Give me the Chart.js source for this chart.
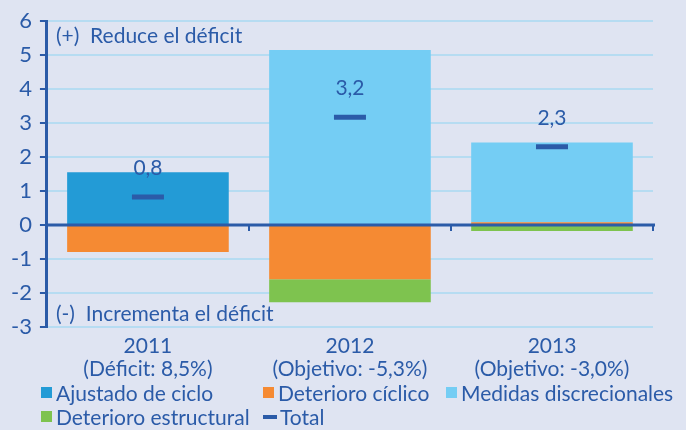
<!DOCTYPE html>
<html>
<head>
<meta charset="utf-8">
<script src="https://cdn.jsdelivr.net/npm/chart.js@4"></script>
<style>
  html, body { margin: 0; padding: 0; background: #dfe4f2; }
  #wrap { position: relative; width: 686px; height: 430px; background: #dfe4f2; }
  #box { position: absolute; left: 0; top: 0; width: 686px; height: 381px; }
  #legend {
    position: absolute; left: 41px; top: 381px; width: 645px;
    display: grid; grid-template-columns: 222px 183px auto; row-gap: 1px;
    font-family: Lato, sans-serif; font-size: 21px; color: #2b5ba8;
  }
  .item { display: flex; align-items: center; height: 23px; white-space: nowrap; }
  .mark { display: inline-block; width: 11px; height: 11px; margin-right: 4px; }
  .mark.line { width: 14px; height: 4px; margin-right: 3px; }
</style>
</head>
<body>
<div id="wrap">
  <div id="box"><canvas id="chart"></canvas></div>
  <div id="legend"></div>
</div>
<script>
// data
const categories = [
  ['2011', '(Déficit: 8,5%)'],
  ['2012', '(Objetivo: -5,3%)'],
  ['2013', '(Objetivo: -3,0%)']
];
const ajustadoCiclo = [1.55, null, null];
const deterioroCiclico = [-0.8, -1.6, 0.08];
const medidasDiscrecionales = [null, 5.15, 2.35];
const deterioroEstructural = [null, -0.68, -0.18];
const total = [0.82, 3.17, 2.3];
const totalLabels = ['0,8', '3,2', '2,3'];
const yTicks = [-3, -2, -1, 0, 1, 2, 3, 4, 5, 6];

const DARK = '#2b5ba8';
const GRID = '#b6dcf2';
const FONT = 'Lato, sans-serif';

// texts inside the plot + total labels + zero line
const notesPlugin = {
  id: 'notes',
  afterDatasetsDraw(chart) {
    const ctx = chart.ctx;
    const x = chart.scales.x, y = chart.scales.y;
    const area = chart.chartArea;
    const y0 = y.getPixelForValue(0);

    ctx.save();
    // zero line over the bars
    ctx.strokeStyle = DARK;
    ctx.lineWidth = 3;
    ctx.beginPath();
    ctx.moveTo(area.left, y0);
    ctx.lineTo(area.right + 2, y0);
    ctx.stroke();
    // small ticks at category boundaries
    ctx.lineWidth = 2;
    for (let i = 1; i <= categories.length; i++) {
      const px = Math.round(x.getPixelForValue(i - 0.5));
      ctx.beginPath();
      ctx.moveTo(px, y0);
      ctx.lineTo(px, y0 + 6);
      ctx.stroke();
    }

    ctx.fillStyle = DARK;
    ctx.font = '21px ' + FONT;
    ctx.textBaseline = 'middle';
    ctx.textAlign = 'left';
    ctx.fillText('(+)  Reduce el déficit', area.left + 9, y.getPixelForValue(5.55));
    ctx.fillText('(-)  Incrementa el déficit', area.left + 9, y.getPixelForValue(-2.62));

    // total value labels
    const meta = chart.getDatasetMeta(4);
    ctx.textAlign = 'center';
    meta.data.forEach((pt, i) => {
      ctx.fillText(totalLabels[i], pt.x, pt.y - 29);
    });
    ctx.restore();
  }
};

const chart = new Chart(document.getElementById('chart'), {
  type: 'bar',
  data: {
    labels: categories,
    datasets: [
      { label: 'Ajustado de ciclo', data: ajustadoCiclo, backgroundColor: '#239bd6' },
      { label: 'Deterioro cíclico', data: deterioroCiclico, backgroundColor: '#f58a33' },
      { label: 'Medidas discrecionales', data: medidasDiscrecionales, backgroundColor: '#74cdf4' },
      { label: 'Deterioro estructural', data: deterioroEstructural, backgroundColor: '#7ec34f' },
      {
        type: 'line', label: 'Total', data: total, stack: 'total', order: -1,
        showLine: false, pointStyle: 'line', pointRadius: 16, pointHoverRadius: 16,
        borderColor: DARK, backgroundColor: DARK, borderWidth: 5, pointBorderWidth: 5
      }
    ]
  },
  options: {
    responsive: true,
    maintainAspectRatio: false,
    animation: false,
    events: [],
    layout: { padding: { left: 3, right: 33, top: 18, bottom: 0 } },
    datasets: { bar: { barPercentage: 0.8, categoryPercentage: 1.0 } },
    scales: {
      x: {
        stacked: true,
        grid: { display: false },
        border: { display: false },
        ticks: { color: DARK, font: { family: FONT, size: 21, lineHeight: 1.1 }, padding: 0, maxRotation: 0 }
      },
      y: {
        stacked: true,
        min: -3, max: 6,
        afterBuildTicks(scale) { scale.ticks = yTicks.map(v => ({ value: v })); },
        grid: { color: GRID, lineWidth: 2, tickColor: DARK, tickLength: 7 },
        border: { color: DARK, width: 3 },
        ticks: { color: DARK, font: { family: FONT, size: 22 }, padding: 8 }
      }
    },
    plugins: {
      legend: { display: false },
      tooltip: { enabled: false }
    }
  },
  plugins: [notesPlugin]
});

// legend in three columns like the original
const legendEl = document.getElementById('legend');
chart.data.datasets.forEach(ds => {
  const item = document.createElement('div');
  item.className = 'item';
  const mark = document.createElement('span');
  mark.className = ds.type === 'line' ? 'mark line' : 'mark';
  mark.style.background = ds.backgroundColor;
  item.appendChild(mark);
  item.appendChild(document.createTextNode(ds.label));
  legendEl.appendChild(item);
});
</script>
</body>
</html>
